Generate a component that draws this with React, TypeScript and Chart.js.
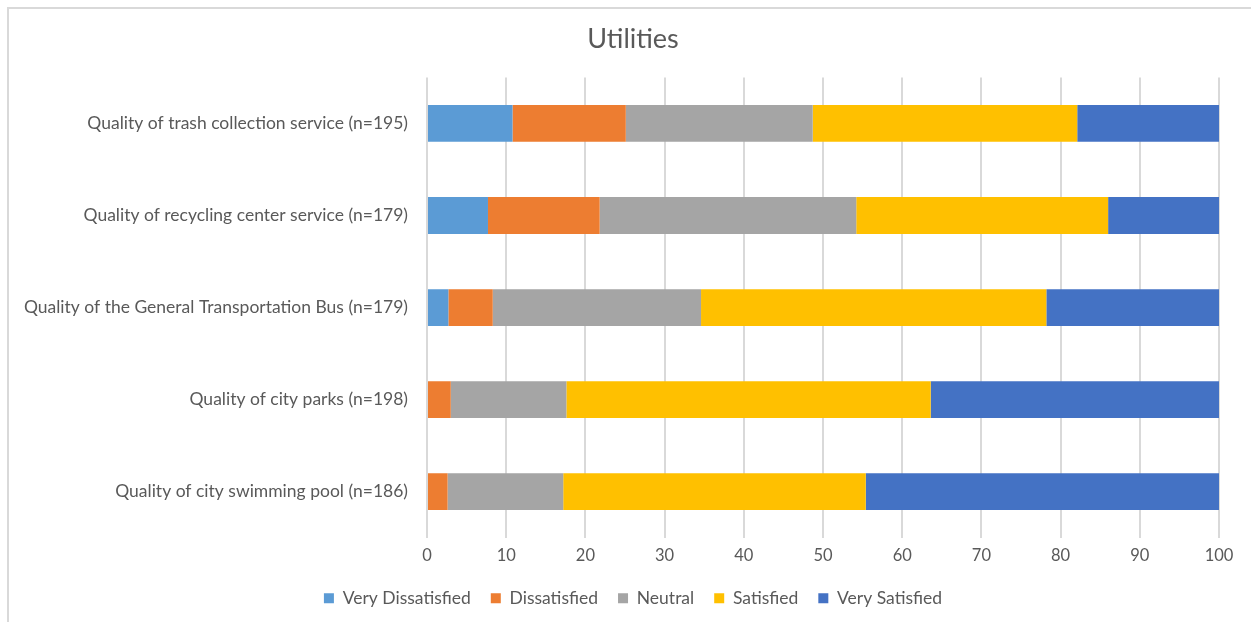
import React, { useEffect, useRef } from "react";
import { Chart, registerables } from "chart.js";

Chart.register(...registerables);

const categories = [
  "Quality of trash collection service (n=195)",
  "Quality of recycling center service (n=179)",
  "Quality of the General Transportation Bus (n=179)",
  "Quality of city parks (n=198)",
  "Quality of city swimming pool (n=186)",
];

const veryDissatisfied = [10.8, 7.7, 2.7, 0, 0];
const dissatisfied = [14.3, 14.1, 5.6, 3.0, 2.6];
const neutral = [23.6, 32.4, 26.3, 14.6, 14.6];
const satisfied = [33.4, 31.8, 43.6, 46.0, 38.2];
const verySatisfied = [17.9, 14.0, 21.8, 36.4, 44.6];

const seriesNames = ["Very Dissatisfied", "Dissatisfied", "Neutral", "Satisfied", "Very Satisfied"];
const seriesColors = ["#5B9BD5", "#ED7D31", "#A5A5A5", "#FFC000", "#4472C4"];

const xTicks = [0, 10, 20, 30, 40, 50, 60, 70, 80, 90, 100];

const FONT = "Lato, 'Open Sans', sans-serif";
const TEXT = "#595959";

export default function App() {
  const ref = useRef<HTMLCanvasElement | null>(null);

  useEffect(() => {
    if (!ref.current) return;
    const seriesData = [veryDissatisfied, dissatisfied, neutral, satisfied, verySatisfied];
    const chart = new Chart(ref.current, {
      type: "bar",
      data: {
        labels: categories,
        datasets: seriesNames.map((name, i) => ({
          label: name,
          data: seriesData[i],
          backgroundColor: seriesColors[i],
          borderWidth: 0,
          barPercentage: 0.4,
          categoryPercentage: 1.0,
          yAxisID: "y",
        })),
      },
      options: {
        indexAxis: "y",
        responsive: false,
        animation: false,
        layout: { padding: { left: 15, right: 0, top: 0, bottom: 5 } },
        plugins: {
          title: {
            display: true,
            text: "Utilities",
            color: TEXT,
            font: { family: FONT, size: 27, weight: "normal" },
            padding: { top: 23, bottom: 22 },
          },
          legend: {
            position: "bottom",
            labels: {
              color: TEXT,
              font: { family: FONT, size: 17.5 },
              boxWidth: 10,
              boxHeight: 10,
              padding: 20,
            },
          },
          tooltip: { enabled: false },
        },
        scales: {
          x: {
            stacked: true,
            min: 0,
            max: 100,
            afterBuildTicks: (scale: any) => {
              scale.ticks = xTicks.map((v) => ({ value: v }));
            },
            afterFit: (scale: any) => {
              scale.height = scale.height - 4;
            },
            ticks: {
              color: TEXT,
              font: { family: FONT, size: 16.5 },
              padding: 8,
            },
            grid: { color: "#D9D9D9", lineWidth: 2, drawTicks: false },
            border: { display: false },
          },
          y: {
            stacked: true,
            afterFit: (scale: any) => {
              scale.width = 412;
            },
            ticks: {
              color: TEXT,
              font: { family: FONT, size: 17.5 },
              padding: 11,
            },
            grid: { display: false },
            border: { display: false },
          },
          yRight: {
            type: "category",
            position: "right",
            afterFit: (scale: any) => {
              scale.width = 32;
            },
            ticks: { display: false },
            grid: { display: false },
            border: { display: false },
          },
        },
      },
    });
    return () => chart.destroy();
  }, []);

  return (
    <div
      style={{
        position: "fixed",
        left: 0,
        top: 0,
        width: 1251,
        height: 622,
        overflow: "hidden",
        background: "#fff",
      }}
    >
      <div
        style={{
          position: "absolute",
          left: 7,
          top: 7,
          width: 1300,
          height: 700,
          border: "2px solid #D9D9D9",
          boxSizing: "border-box",
        }}
      />
      <canvas ref={ref} width={1251} height={622} style={{ position: "absolute", left: 0, top: 0 }} />
    </div>
  );
}
